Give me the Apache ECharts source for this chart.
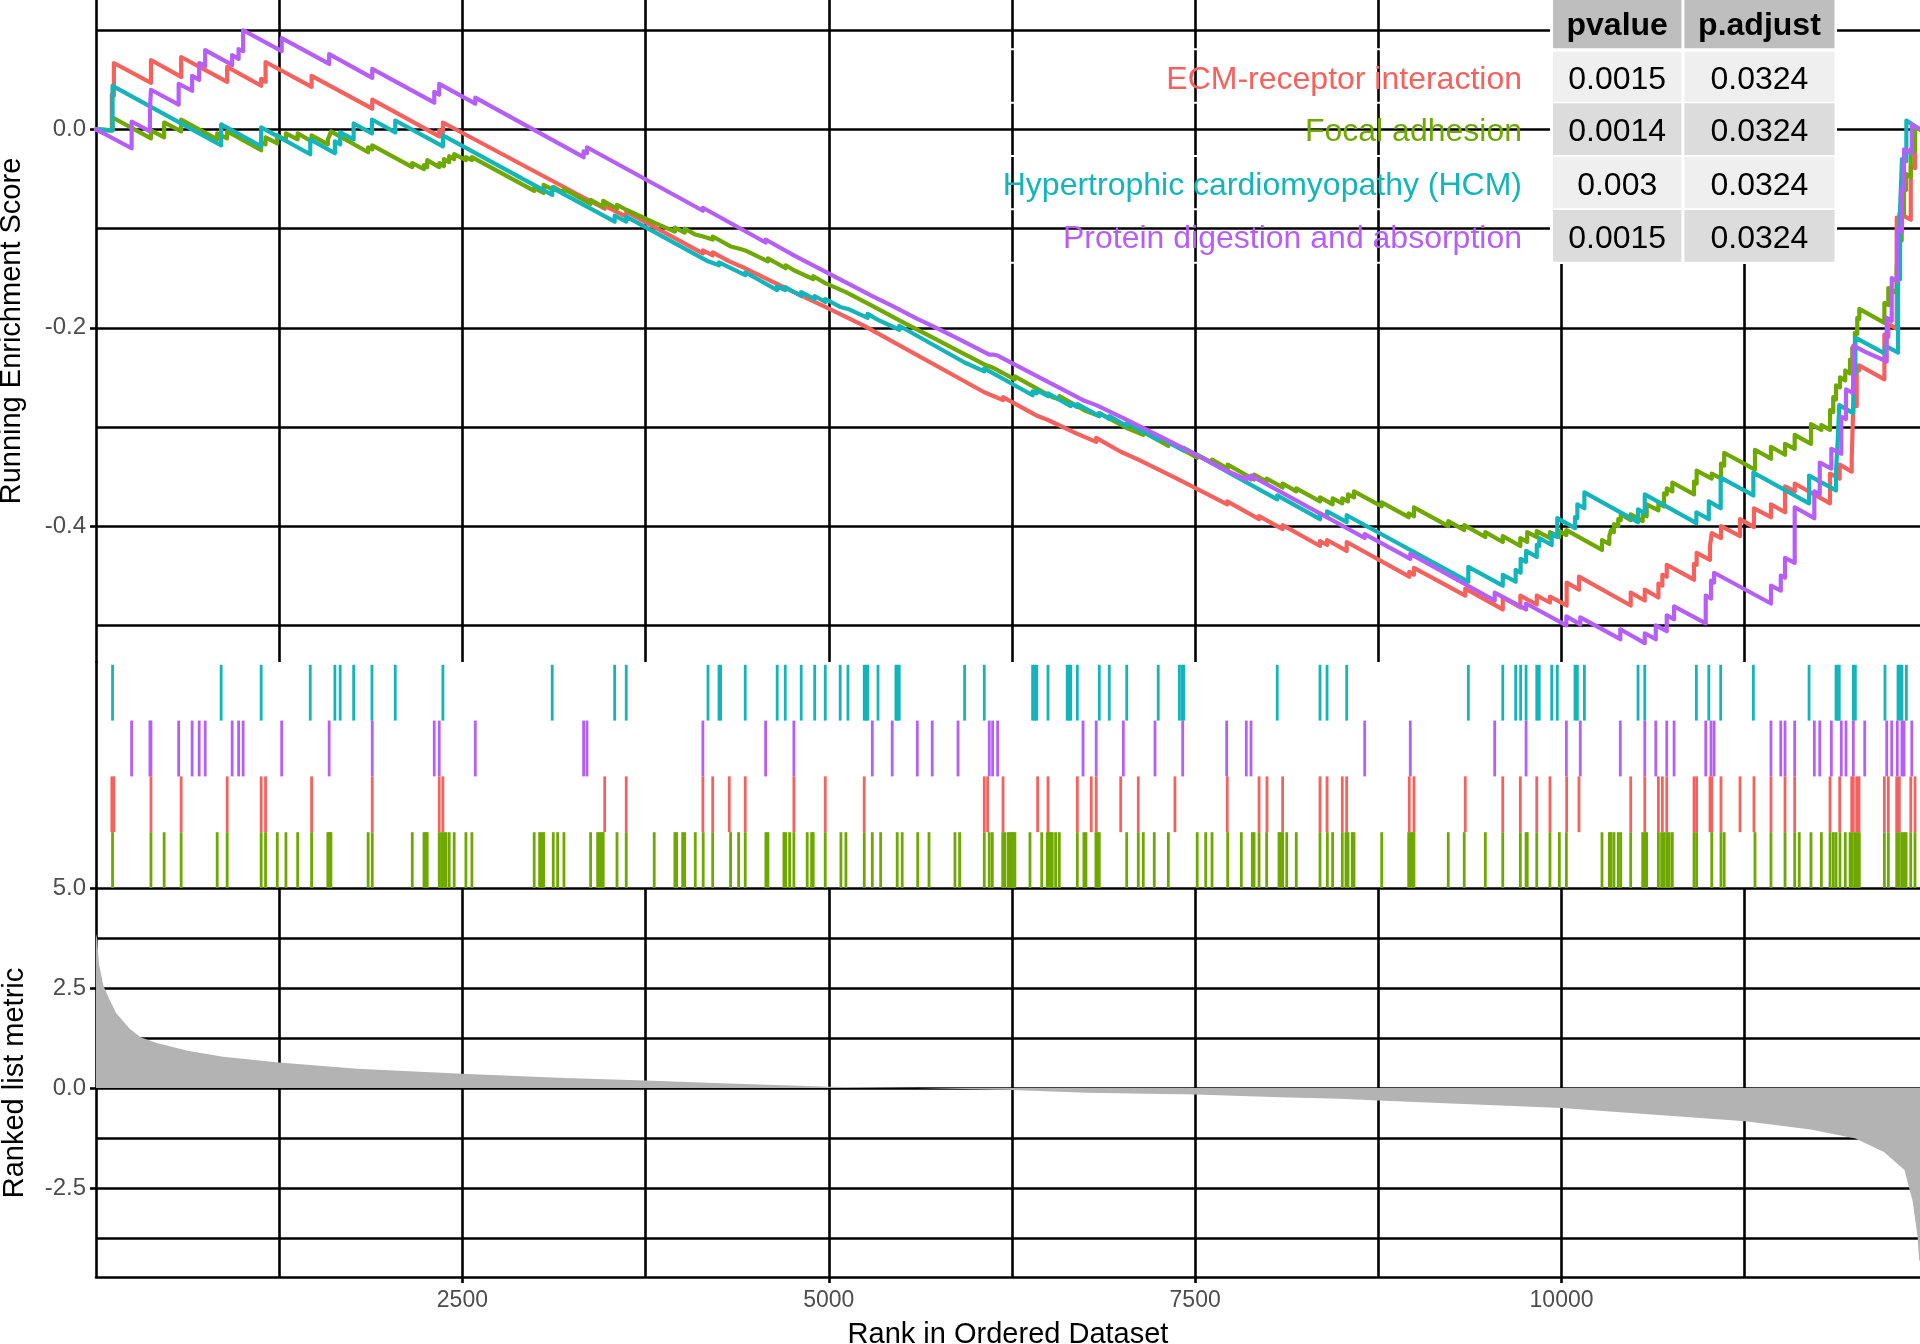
<!DOCTYPE html>
<html>
<head>
<meta charset="UTF-8">
<title>GSEA running enrichment score</title>
<script src="https://cdn.jsdelivr.net/npm/echarts@6.0.0/dist/echarts.min.js"></script>
<style>
    html, body { margin: 0; padding: 0; background: #fff; }
    #main { width: 1920px; height: 1344px; }
</style>
</head>
<body>
<div id="main"></div>
<script type="text/javascript">
// gene sets, in table order
var setNames = ['ECM-receptor interaction', 'Focal adhesion', 'Hypertrophic cardiomyopathy (HCM)', 'Protein digestion and absorption'];
var pvalues = ['0.0015', '0.0014', '0.003', '0.0015'];
var padjust = ['0.0324', '0.0324', '0.0324', '0.0324'];

// running enrichment score, [rank, score] (vertical steps at hits)
var esECM = [[0,0],[108,-0.001],[108,0.035],[122,0.034],[122,0.067],[375,0.047],[375,0.070],[581,0.053],[581,0.073],[895,0.048],[895,0.063],
    [1127,0.044],[1127,0.051],[1157,0.048],[1157,0.068],[1471,0.043],[1471,0.054],[1885,0.021],[1885,0.030],[2342,-0.007],[2342,-0.001],[2367,-0.003],[2367,0.007],
    [3471,-0.080],[3471,-0.077],[3618,-0.088],[3618,-0.083],[4141,-0.125],[4141,-0.122],[4208,-0.127],[4208,-0.124],[4321,-0.133],[4321,-0.131],[4430,-0.140],[4430,-0.138],
    [4762,-0.164],[4762,-0.162],[4976,-0.179],[4976,-0.177],[5242,-0.198],[5242,-0.197],[6061,-0.265],[6061,-0.263],[6189,-0.273],[6189,-0.270],[6425,-0.289],[6425,-0.287],
    [6496,-0.293],[6496,-0.291],[6696,-0.307],[6696,-0.305],[6825,-0.315],[6825,-0.311],[6992,-0.325],[6992,-0.323],[7112,-0.333],[7112,-0.331],[7362,-0.351],[7362,-0.349],
    [7719,-0.378],[7719,-0.375],[7936,-0.393],[7936,-0.390],[8097,-0.403],[8097,-0.399],[8352,-0.420],[8352,-0.415],[8400,-0.419],[8400,-0.414],[8534,-0.425],[8534,-0.416],
    [8961,-0.451],[8961,-0.446],[8993,-0.449],[8993,-0.442],[9343,-0.470],[9343,-0.463],[9599,-0.484],[9599,-0.472],[9719,-0.482],[9719,-0.470],[9831,-0.479],[9831,-0.470],
    [9921,-0.477],[9921,-0.471],[10035,-0.480],[10035,-0.457],[10119,-0.464],[10119,-0.451],[10472,-0.480],[10472,-0.467],[10568,-0.475],[10568,-0.464],[10661,-0.472],[10661,-0.458],
    [10688,-0.460],[10688,-0.449],[10718,-0.451],[10718,-0.439],[10904,-0.454],[10904,-0.438],[10922,-0.439],[10922,-0.427],[11013,-0.434],[11013,-0.420],[11025,-0.421],[11025,-0.407],
    [11088,-0.412],[11088,-0.400],[11218,-0.410],[11218,-0.393],[11313,-0.401],[11313,-0.382],[11429,-0.391],[11429,-0.378],[11525,-0.386],[11525,-0.360],[11591,-0.365],[11591,-0.357],
    [11832,-0.377],[11832,-0.347],[11898,-0.352],[11898,-0.338],[11980,-0.345],[11980,-0.332],[11991,-0.333],[11991,-0.277],[12014,-0.279],[12014,-0.242],[12030,-0.243],[12030,-0.238],
    [12203,-0.252],[12203,-0.207],[12230,-0.209],[12230,-0.196],[12287,-0.201],[12287,-0.089],[12305,-0.090],[12305,-0.085],[12383,-0.091],[12383,-0.037],[12412,-0.039],[12412,0.003],[12446,0]];

var esFocal = [[0,0],[113,-0.001],[113,0.012],[375,-0.009],[375,-0.001],[465,-0.008],[465,0.007],[581,-0.002],[581,0.010],[827,-0.010],[827,-0.004],[895,-0.009],[895,-0.002],
    [1127,-0.021],[1127,-0.013],[1157,-0.015],[1157,-0.008],[1237,-0.014],[1237,-0.006],[1296,-0.011],[1296,-0.004],[1376,-0.010],[1376,-0.004],[1471,-0.012],[1471,-0.006],
    [1582,-0.015],[1582,-0.010],[1594,-0.011],[1594,-0.006],[1603,-0.007],[1603,-0.002],[1857,-0.023],[1857,-0.018],[1885,-0.020],[1885,-0.016],
    [2158,-0.038],[2158,-0.034],[2238,-0.040],[2238,-0.036],[2260,-0.038],[2260,-0.031],[2342,-0.038],[2342,-0.034],[2374,-0.037],[2374,-0.030],[2410,-0.033],[2410,-0.027],
    [2444,-0.030],[2444,-0.025],[2524,-0.031],[2524,-0.028],[2565,-0.031],[2565,-0.028],[2990,-0.062],[2990,-0.059],[3054,-0.064],[3054,-0.056],[3120,-0.061],[3120,-0.058],
    [3193,-0.064],[3193,-0.060],[3375,-0.075],[3375,-0.071],[3461,-0.078],[3461,-0.072],[3555,-0.080],[3555,-0.076],[3618,-0.081],[3618,-0.079],[3809,-0.094],[3809,-0.092],
    [3950,-0.103],[3950,-0.099],[4017,-0.104],[4017,-0.100],[4089,-0.106],[4089,-0.104],[4143,-0.108],[4143,-0.106],[4208,-0.111],[4208,-0.108],[4330,-0.118],[4330,-0.116],
    [4385,-0.120],[4385,-0.118],[4430,-0.122],[4430,-0.120],[4585,-0.133],[4585,-0.130],[4706,-0.140],[4706,-0.137],[4762,-0.142],[4762,-0.140],[4894,-0.151],[4894,-0.148],
    [4976,-0.155],[4976,-0.153],[5117,-0.164],[5117,-0.163],[5297,-0.178],[5297,-0.177],[5501,-0.194],[5501,-0.193],[5684,-0.208],[5684,-0.207],[5893,-0.224],[5893,-0.223],
    [6061,-0.237],[6061,-0.236],[6116,-0.240],[6116,-0.239],[6270,-0.252],[6270,-0.249],[6525,-0.270],[6525,-0.268],[6573,-0.272],[6573,-0.269],[6755,-0.284],[6755,-0.282],
    [6846,-0.289],[6846,-0.286],[7033,-0.301],[7033,-0.299],[7146,-0.308],[7146,-0.305],[7317,-0.319],[7317,-0.315],[7514,-0.331],[7514,-0.328],[7615,-0.336],[7615,-0.333],
    [7722,-0.342],[7722,-0.338],[7902,-0.353],[7902,-0.348],[7988,-0.355],[7988,-0.352],[8097,-0.361],[8097,-0.357],[8190,-0.365],[8190,-0.362],[8352,-0.375],[8352,-0.371],
    [8438,-0.378],[8438,-0.372],[8504,-0.377],[8504,-0.372],[8543,-0.375],[8543,-0.368],[8584,-0.371],[8584,-0.365],[8773,-0.380],[8773,-0.376],[8957,-0.391],[8957,-0.387],
    [8993,-0.390],[8993,-0.381],[9227,-0.400],[9227,-0.395],[9336,-0.404],[9336,-0.399],[9480,-0.411],[9480,-0.406],[9599,-0.416],[9599,-0.410],[9719,-0.420],[9719,-0.412],
    [9766,-0.416],[9766,-0.406],[9831,-0.411],[9831,-0.405],[9921,-0.412],[9921,-0.406],[9985,-0.411],[9985,-0.405],[10033,-0.409],[10033,-0.404],[10276,-0.424],[10276,-0.414],
    [10326,-0.418],[10326,-0.410],[10338,-0.411],[10338,-0.404],[10358,-0.406],[10358,-0.398],[10387,-0.400],[10387,-0.393],[10404,-0.394],[10404,-0.388],[10472,-0.394],[10472,-0.388],
    [10554,-0.395],[10554,-0.388],[10581,-0.390],[10581,-0.378],[10661,-0.384],[10661,-0.377],[10699,-0.380],[10699,-0.367],[10718,-0.368],[10718,-0.362],[10756,-0.365],[10756,-0.356],
    [10904,-0.368],[10904,-0.355],[10922,-0.357],[10922,-0.344],[11025,-0.352],[11025,-0.347],[11088,-0.352],[11088,-0.337],[11110,-0.339],[11110,-0.326],[11320,-0.343],[11320,-0.323],
    [11429,-0.332],[11429,-0.320],[11525,-0.328],[11525,-0.317],[11591,-0.322],[11591,-0.308],[11702,-0.317],[11702,-0.297],[11773,-0.303],[11773,-0.298],[11832,-0.303],[11832,-0.283],
    [11854,-0.285],[11854,-0.270],[11873,-0.272],[11873,-0.258],[11900,-0.260],[11900,-0.250],[11936,-0.253],[11936,-0.243],[11969,-0.246],[11969,-0.232],[11984,-0.233],[11984,-0.220],
    [12002,-0.221],[12002,-0.205],[12018,-0.206],[12018,-0.190],[12032,-0.191],[12032,-0.181],[12203,-0.195],[12203,-0.175],[12230,-0.177],[12230,-0.160],[12287,-0.165],[12287,-0.137],
    [12302,-0.138],[12302,-0.110],[12321,-0.112],[12321,-0.085],[12337,-0.086],[12337,-0.060],[12351,-0.061],[12351,-0.045],[12383,-0.048],[12383,-0.020],[12412,-0.022],[12412,0.003],[12446,0]];

var esHCM = [[0,0],[113,-0.001],[113,0.044],[854,-0.016],[854,0.005],[1127,-0.017],[1127,0.002],[1462,-0.025],[1462,-0.010],[1630,-0.024],[1630,-0.012],[1666,-0.015],[1666,-0.003],
    [1758,-0.010],[1758,0.006],[1883,-0.004],[1883,0.010],[2042,-0.003],[2042,0.009],[2367,-0.017],[2367,-0.006],[3113,-0.066],[3113,-0.059],[3539,-0.093],[3539,-0.087],
    [3618,-0.093],[3618,-0.088],[4176,-0.133],[4176,-0.131],[4251,-0.137],[4251,-0.134],[4262,-0.135],[4262,-0.133],[4430,-0.147],[4430,-0.144],[4648,-0.162],[4648,-0.158],
    [4703,-0.162],[4703,-0.159],[4812,-0.168],[4812,-0.164],[4904,-0.171],[4904,-0.168],[4976,-0.174],[4976,-0.171],[5078,-0.179],[5078,-0.177],[5131,-0.181],[5131,-0.179],
    [5265,-0.190],[5265,-0.186],[5336,-0.192],[5336,-0.190],[5481,-0.202],[5481,-0.198],[5927,-0.235],[5927,-0.233],[6061,-0.244],[6061,-0.241],[6391,-0.268],[6391,-0.264],
    [6419,-0.266],[6419,-0.263],[6496,-0.269],[6496,-0.266],[6651,-0.279],[6651,-0.276],[6696,-0.280],[6696,-0.277],[6846,-0.289],[6846,-0.286],[6914,-0.292],[6914,-0.289],
    [7033,-0.299],[7033,-0.296],[7248,-0.313],[7248,-0.310],[7422,-0.324],[7422,-0.321],[8060,-0.373],[8060,-0.369],[8352,-0.393],[8352,-0.387],[8400,-0.391],[8400,-0.385],
    [8534,-0.396],[8534,-0.389],[9364,-0.456],[9364,-0.441],[9599,-0.460],[9599,-0.449],[9687,-0.456],[9687,-0.444],[9721,-0.447],[9721,-0.433],[9758,-0.436],[9758,-0.425],
    [9831,-0.431],[9831,-0.419],[9848,-0.420],[9848,-0.412],[9933,-0.419],[9933,-0.408],[9971,-0.411],[9971,-0.392],[10092,-0.402],[10092,-0.391],[10108,-0.392],[10108,-0.378],
    [10156,-0.382],[10156,-0.366],[10522,-0.396],[10522,-0.383],[10568,-0.387],[10568,-0.368],[10920,-0.397],[10920,-0.386],[11005,-0.393],[11005,-0.375],[11086,-0.382],[11086,-0.351],
    [11309,-0.369],[11309,-0.346],[11689,-0.377],[11689,-0.349],[11873,-0.364],[11873,-0.345],[11885,-0.346],[11885,-0.312],[11895,-0.313],[11895,-0.278],[11991,-0.286],[11991,-0.245],
    [12005,-0.246],[12005,-0.210],[12207,-0.226],[12207,-0.218],[12296,-0.225],[12296,-0.150],[12310,-0.151],[12310,-0.080],[12323,-0.081],[12323,-0.030],[12353,-0.032],[12353,0.009],[12446,0]];

var esProtein = [[0,0],[243,-0.019],[243,0.008],[368,-0.002],[368,0.020],[375,0.019],[375,0.040],[564,0.025],[564,0.046],[656,0.039],[656,0.054],[704,0.050],[704,0.067],
    [745,0.064],[745,0.080],[929,0.065],[929,0.075],[973,0.071],[973,0.081],[1004,0.079],[1004,0.100],[1267,0.079],[1267,0.092],[1591,0.066],[1591,0.076],[1885,0.052],[1885,0.061],
    [2308,0.027],[2308,0.038],[2342,0.035],[2342,0.046],[2588,0.026],[2588,0.032],[3327,-0.028],[3327,-0.022],[3350,-0.024],[3350,-0.018],[4141,-0.082],[4141,-0.079],
    [4569,-0.114],[4569,-0.111],[4762,-0.127],[4762,-0.125],[5297,-0.168],[5297,-0.167],[5433,-0.178],[5433,-0.177],[5604,-0.191],[5604,-0.190],[5706,-0.198],[5706,-0.197],
    [5882,-0.211],[5882,-0.210],[6095,-0.227],[6095,-0.225],[6118,-0.227],[6118,-0.225],[6152,-0.228],[6152,-0.226],[6735,-0.273],[6735,-0.271],[6825,-0.278],[6825,-0.276],
    [7010,-0.291],[7010,-0.290],[7226,-0.307],[7226,-0.306],[7415,-0.321],[7415,-0.320],[7715,-0.344],[7715,-0.342],[7849,-0.353],[7849,-0.350],[7881,-0.353],[7881,-0.349],
    [8657,-0.412],[8657,-0.408],[8968,-0.433],[8968,-0.428],[9544,-0.475],[9544,-0.467],[9758,-0.484],[9758,-0.478],[10033,-0.500],[10033,-0.491],[10128,-0.499],[10128,-0.492],
    [10401,-0.514],[10401,-0.504],[10568,-0.518],[10568,-0.508],[10643,-0.514],[10643,-0.500],[10718,-0.506],[10718,-0.490],[10768,-0.494],[10768,-0.481],[10984,-0.498],[10984,-0.470],
    [11020,-0.473],[11020,-0.455],[11041,-0.457],[11041,-0.447],[11429,-0.478],[11429,-0.460],[11496,-0.465],[11496,-0.450],[11525,-0.452],[11525,-0.432],[11591,-0.437],[11591,-0.381],
    [11725,-0.392],[11725,-0.365],[11762,-0.368],[11762,-0.336],[11841,-0.342],[11841,-0.322],[11909,-0.327],[11909,-0.290],[11941,-0.292],[11941,-0.262],[11991,-0.266],[11991,-0.218],
    [12069,-0.224],[12069,-0.222],[12219,-0.234],[12219,-0.190],[12253,-0.193],[12253,-0.150],[12291,-0.153],[12291,-0.100],[12323,-0.103],[12323,-0.060],[12337,-0.061],[12337,-0.020],
    [12390,-0.024],[12390,0.005],[12446,0]];

// positions (rank) of the genes of each set
var hitsECM = [108,122,375,581,895,1127,1157,1471,1885,2342,2367,3471,3618,4141,4208,4321,4430,4762,4976,5242,6061,6084,6189,6425,6496,6696,6791,6825,6992,7112,7362,7719,7936,7990,
    8097,8352,8400,8504,8534,8961,8993,9343,9599,9719,9831,9921,10035,10119,10472,10568,10661,10688,10718,10904,10922,11013,11025,11088,11218,11313,11429,11525,11591,11832,11898,
    11980,11991,12014,12030,12203,12230,12287,12305,12383,12412];
var hitsFocal = [113,375,465,581,827,895,1127,1157,1237,1296,1376,1471,1582,1594,1603,1857,1885,2158,2238,2251,2260,2342,2358,2374,2388,2410,2444,2524,2565,2990,3027,3041,3054,
    3120,3150,3193,3375,3423,3439,3450,3461,3555,3618,3809,3950,3962,4003,4017,4089,4143,4208,4330,4385,4430,4571,4585,4694,4706,4733,4762,4853,4883,4894,4976,5083,5117,5242,
    5297,5354,5467,5501,5607,5684,5861,5893,6061,6095,6116,6187,6202,6225,6236,6248,6259,6270,6373,6453,6491,6502,6514,6525,6548,6573,6696,6741,6755,6823,6835,6846,7033,7112,
    7146,7221,7317,7514,7572,7615,7722,7815,7890,7902,7936,7988,8072,8084,8097,8125,8190,8352,8402,8438,8504,8529,8543,8572,8584,8773,8957,8971,8982,8993,9227,9336,9480,9599,
    9719,9758,9766,9831,9921,9985,10033,10276,10326,10338,10358,10387,10404,10472,10554,10570,10581,10661,10683,10699,10718,10735,10756,10904,10922,11025,11088,11110,11320,11429,
    11525,11591,11622,11702,11773,11832,11854,11873,11900,11936,11969,11984,12002,12018,12032,12203,12230,12287,12302,12321,12337,12351,12383,12412];
var hitsHCM = [113,854,1127,1462,1630,1666,1758,1883,2042,2367,3113,3539,3618,4176,4251,4262,4430,4648,4703,4812,4904,4976,5078,5131,5242,5254,5265,5336,5458,5470,5481,5927,
    6061,6391,6405,6419,6496,6627,6639,6651,6696,6846,6914,7033,7248,7392,7410,7422,8060,8352,8400,8534,9364,9599,9687,9721,9758,9831,9848,9933,9971,10092,10108,10156,10522,
    10568,10920,11005,11086,11309,11689,11873,11885,11895,11991,12005,12207,12296,12310,12323,12353];
var hitsProtein = [243,368,375,564,656,704,745,929,973,1004,1267,1591,1885,2308,2342,2588,3327,3350,4141,4569,4762,5297,5433,5604,5706,5882,6095,6118,6152,6735,6825,7010,7226,
    7415,7715,7849,7881,8657,8968,9544,9758,10033,10128,10401,10568,10643,10718,10768,10984,11020,11041,11429,11496,11525,11591,11725,11762,11841,11909,11941,11991,12069,12219,
    12253,12291,12323,12337,12390];

// ranked list metric, [rank, value]
var rankMetric = [[0,3.85],[8,3.73],[20,3.1],[51,2.55],[91,2.22],[136,1.88],[228,1.49],[304,1.27],[409,1.13],[624,0.93],[867,0.78],[1248,0.64],[1781,0.48],[2497,0.355],
    [3152,0.255],[3746,0.19],[4319,0.11],[5000,0.03],[5600,0.0],[6255,-0.05],[6755,-0.12],[7504,-0.16],[8079,-0.23],[8488,-0.27],[8748,-0.31],[10000,-0.50],[11254,-0.83],
    [11700,-1.04],[12006,-1.26],[12200,-1.60],[12340,-2.05],[12396,-2.83],[12430,-3.73],[12440,-4.29],[12446,-4.35]];

var nGenes = 12446;
var rankTicks = [2500, 5000, 7500, 10000];
var rankGrid = [1250, 2500, 3750, 5000, 6250, 7500, 8750, 10000, 11250];
var esTicks = [0, -0.2, -0.4];
var esGrid = [0.1, 0, -0.1, -0.2, -0.3, -0.4, -0.5];
var metricTicks = [5, 2.5, 0, -2.5];
var metricGrid = [5, 3.75, 2.5, 1.25, 0, -1.25, -2.5, -3.75];

var colors = ['#F5625E', '#6EA800', '#14B5BA', '#B65FF8'];
var FONT = 'Liberation Sans, Arial, Helvetica, sans-serif';

var myChart = echarts.init(document.getElementById('main'));

function gridLines(xi, hVals, vVals) {
    var d = hVals.map(function (v) { return { yAxis: v }; })
        .concat(vVals.map(function (v) { return { xAxis: v }; }));
    return {
        type: 'line', xAxisIndex: xi, yAxisIndex: xi, data: [], silent: true, z: 1,
        markLine: {
            silent: true, symbol: ['none', 'none'], animation: false, z: 1,
            label: { show: false },
            emphasis: { disabled: true },
            lineStyle: { color: '#000', width: 2.6, type: 'solid' },
            data: d
        }
    };
}

function esLine(data, color) {
    return {
        type: 'line', xAxisIndex: 0, yAxisIndex: 0, data: data, z: 10,
        showSymbol: false, symbol: 'none', silent: true,
        lineStyle: { color: color, width: 4.2, cap: 'round', join: 'round' }
    };
}

function rug(hits, row, color) {
    return {
        type: 'custom', xAxisIndex: 1, yAxisIndex: 1, z: 10, silent: true,
        data: hits.map(function (r) { return [r, row]; }),
        renderItem: function (params, api) {
            var a = api.coord([api.value(0), api.value(1)]);
            var b = api.coord([api.value(0), api.value(1) + 1]);
            return {
                type: 'rect',
                shape: { x: a[0] - 1.4, y: b[1], width: 2.8, height: a[1] - b[1] },
                style: { fill: color }
            };
        }
    };
}

var tickLabel = { color: '#4D4D4D', fontFamily: FONT };

// table (top right)
var colX = [1553, 1684.4], colW = [128.4, 150.1];
var rowY = [51.7, 103.3, 156.7, 210], rowH = [50, 51.7, 51.6, 51.7];
var rowFill = ['#EFEFEF', '#DCDCDC', '#EFEFEF', '#DCDCDC'];
var gfx = [];
gfx.push({ type: 'rect', z: 100, shape: { x: 1550, y: -5, width: 287, height: 269 }, style: { fill: '#fff' } });
[48.3, 101.7, 155, 208.3, 261.7].forEach(function (y) {
    gfx.push({ type: 'rect', z: 100, shape: { x: 990, y: y, width: 565, height: 2 }, style: { fill: '#fff' } });
});
['pvalue', 'p.adjust'].forEach(function (h, c) {
    gfx.push({ type: 'rect', z: 101, shape: { x: colX[c], y: -5, width: colW[c], height: 53.3 }, style: { fill: '#BEBEBE' } });
    gfx.push({ type: 'text', z: 102, x: colX[c] + colW[c] / 2, y: 26,
        style: { text: h, fill: '#000', fontSize: 32, fontWeight: 'bold', fontFamily: FONT, align: 'center', verticalAlign: 'middle' } });
});
setNames.forEach(function (name, i) {
    var cy = rowY[i] + rowH[i] / 2 + 3.5;
    [pvalues[i], padjust[i]].forEach(function (val, c) {
        gfx.push({ type: 'rect', z: 101, shape: { x: colX[c], y: rowY[i], width: colW[c], height: rowH[i] }, style: { fill: rowFill[i] } });
        gfx.push({ type: 'text', z: 102, x: colX[c] + colW[c] / 2, y: cy,
            style: { text: val, fill: '#000', fontSize: 32, fontFamily: FONT, align: 'center', verticalAlign: 'middle' } });
    });
    gfx.push({ type: 'text', z: 102, x: 1522, y: cy,
        style: { text: name, fill: colors[i], fontSize: 32, fontFamily: FONT, align: 'right', verticalAlign: 'middle' } });
});
// axis titles
gfx.push({ type: 'text', z: 102, x: 12, y: 331, rotation: Math.PI / 2,
    style: { text: 'Running Enrichment Score', fill: '#000', fontSize: 29, fontFamily: FONT, align: 'center', verticalAlign: 'middle' } });
gfx.push({ type: 'text', z: 102, x: 14.5, y: 1083, rotation: Math.PI / 2,
    style: { text: 'Ranked list metric', fill: '#000', fontSize: 29, fontFamily: FONT, align: 'center', verticalAlign: 'middle' } });
gfx.push({ type: 'text', z: 102, x: 1008, y: 1335,
    style: { text: 'Rank in Ordered Dataset', fill: '#000', fontSize: 29, fontFamily: FONT, align: 'center', verticalAlign: 'middle' } });

var axisLine = { show: true, onZero: false, lineStyle: { color: '#000', width: 2.6 } };
var oneDecimal = function (v) { return (+v).toFixed(1); };

var option = {
    backgroundColor: '#fff',
    animation: false,
    grid: [
        { left: 96, right: 0, top: 0, height: 662, outerBoundsMode: 'none' },
        { left: 96, right: 0, top: 662, height: 226, outerBoundsMode: 'none' },
        { left: 96, right: 0, top: 888, height: 389, outerBoundsMode: 'none' }
    ],
    xAxis: [
        { gridIndex: 0, type: 'value', min: 0, max: nGenes, show: false },
        { gridIndex: 1, type: 'value', min: 0, max: nGenes, show: false },
        { gridIndex: 2, type: 'value', min: 0, max: nGenes,
          axisLine: axisLine,
          axisTick: { show: true, length: 6, customValues: rankTicks, lineStyle: { color: '#000', width: 2.6 } },
          axisLabel: Object.assign({ customValues: rankTicks, margin: 12, fontSize: 23,
              formatter: function (v) { return String(Math.round(v)); } }, tickLabel),
          splitLine: { show: false } }
    ],
    yAxis: [
        { gridIndex: 0, type: 'value', min: -0.537, max: 0.1305,
          axisLine: axisLine,
          axisTick: { show: true, length: 6, customValues: esTicks, lineStyle: { color: '#000', width: 2.6 } },
          axisLabel: Object.assign({ customValues: esTicks, margin: 10, fontSize: 24, formatter: oneDecimal }, tickLabel),
          splitLine: { show: false } },
        { gridIndex: 1, type: 'value', min: 0, max: 4.05,
          axisLine: axisLine, axisTick: { show: false }, axisLabel: { show: false }, splitLine: { show: false } },
        { gridIndex: 2, type: 'value', min: -4.725, max: 5,
          axisLine: axisLine,
          axisTick: { show: true, length: 6, customValues: metricTicks, lineStyle: { color: '#000', width: 2.6 } },
          axisLabel: Object.assign({ customValues: metricTicks, margin: 10, fontSize: 24, formatter: oneDecimal }, tickLabel),
          splitLine: { show: false } }
    ],
    graphic: { elements: gfx },
    series: [
        gridLines(0, esGrid, rankGrid),
        gridLines(2, metricGrid, rankGrid),
        {
            type: 'line', xAxisIndex: 2, yAxisIndex: 2, data: rankMetric, z: 8, silent: true,
            showSymbol: false, symbol: 'none',
            lineStyle: { width: 0, opacity: 0 },
            areaStyle: { color: '#B3B3B3', opacity: 1 }
        },
        esLine(esECM, colors[0]),
        esLine(esFocal, colors[1]),
        esLine(esHCM, colors[2]),
        esLine(esProtein, colors[3]),
        rug(hitsHCM, 3, colors[2]),
        rug(hitsProtein, 2, colors[3]),
        rug(hitsECM, 1, colors[0]),
        rug(hitsFocal, 0, colors[1])
    ]
};
myChart.setOption(option);
</script>
</body>
</html>
